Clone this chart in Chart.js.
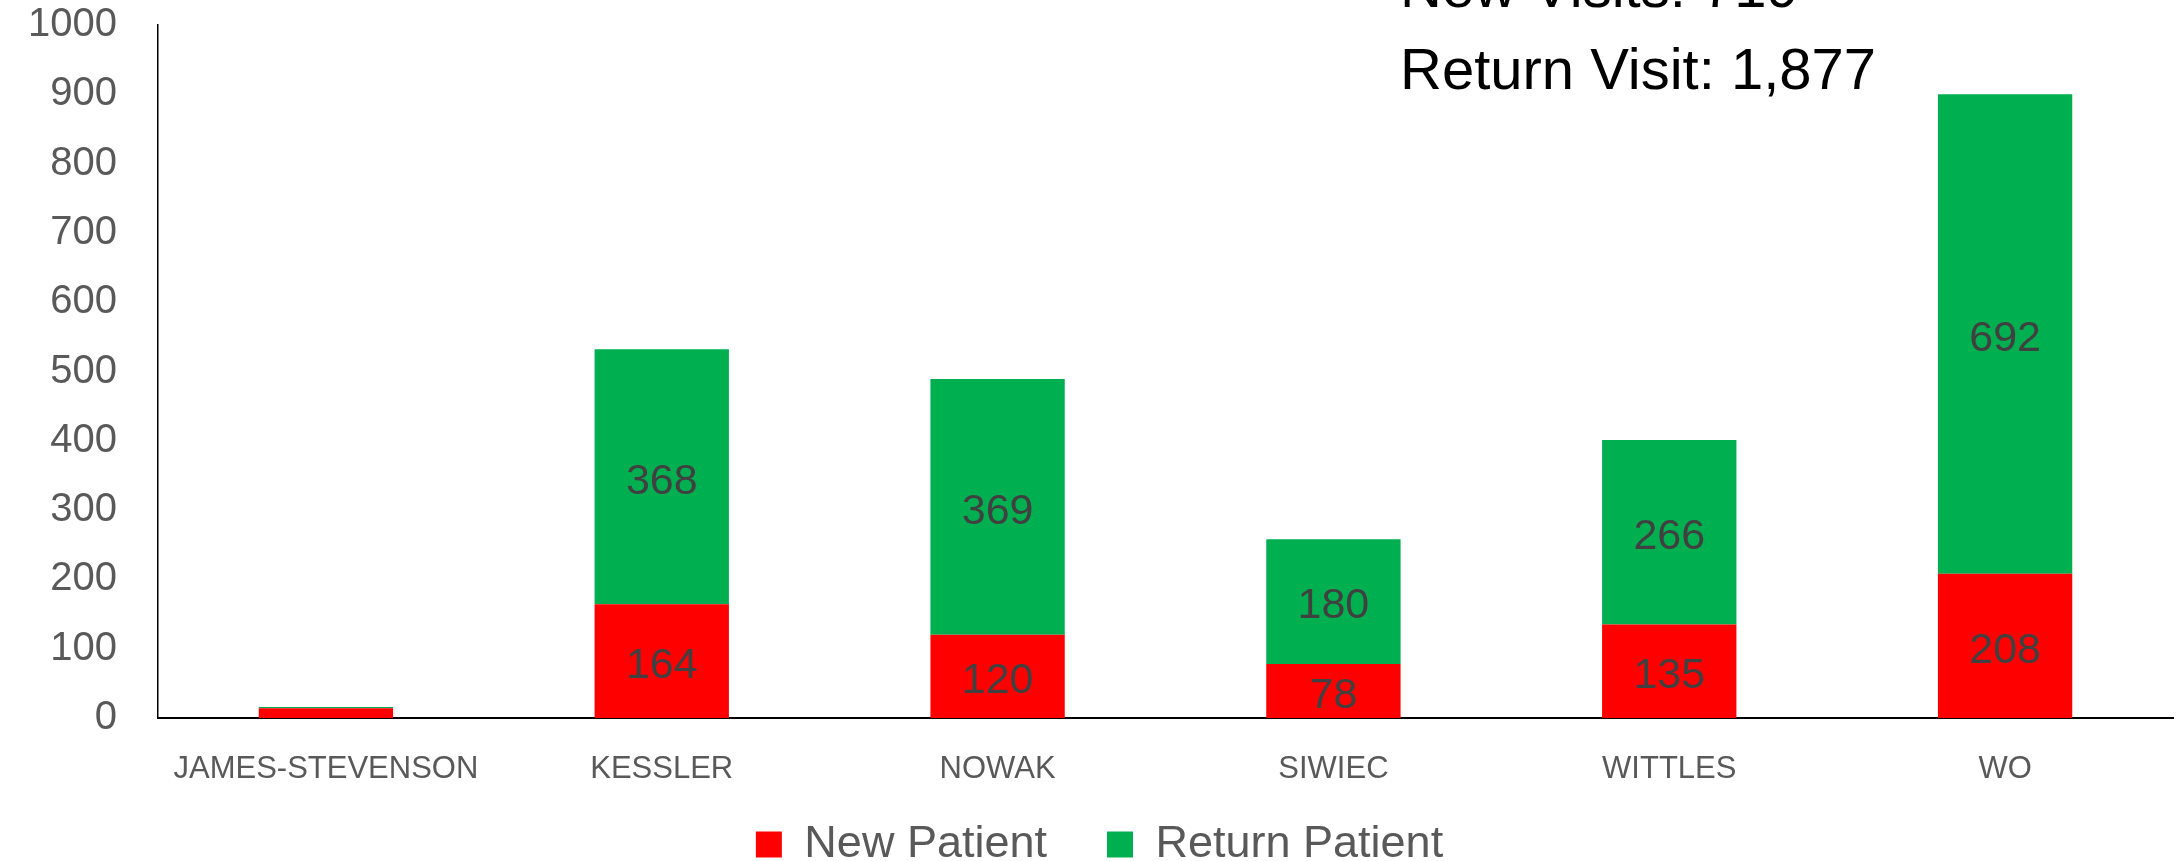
<!DOCTYPE html>
<html lang="en">
<head>
    <meta charset="UTF-8">
    <title>Patient Visits</title>
    <script src="https://cdn.jsdelivr.net/npm/chart.js"></script>
    <style>
        body {
            margin: 0;
            padding: 0;
            background: #ffffff;
        }
        .chart-box {
            width: 2178px;
            height: 861px;
            position: relative;
        }
    </style>
</head>
<body>
    <div class="chart-box">
        <canvas id="visitsChart"></canvas>
    </div>

    <script>
        const providers = ['JAMES-STEVENSON', 'KESSLER', 'NOWAK', 'SIWIEC', 'WITTLES', 'WO'];
        const newPatient = [14, 164, 120, 78, 135, 208];
        const returnPatient = [2, 368, 369, 180, 266, 692];
        const yTicks = [0, 100, 200, 300, 400, 500, 600, 700, 800, 900, 1000];
        const summaryLines = ['New Visits: 719', 'Return Visit: 1,877'];

        // value labels in the middle of each stacked segment
        const segmentLabels = {
            id: 'segmentLabels',
            afterDatasetsDraw(chart) {
                const ctx = chart.ctx;
                ctx.save();
                ctx.font = '43px "Liberation Sans"';
                ctx.fillStyle = '#404040';
                ctx.textAlign = 'center';
                ctx.textBaseline = 'middle';
                chart.data.datasets.forEach((ds, i) => {
                    chart.getDatasetMeta(i).data.forEach((bar, j) => {
                        const p = bar.getProps(['x', 'y', 'base'], true);
                        if (Math.abs(p.base - p.y) < 30) return;
                        ctx.fillText(ds.data[j], p.x, (p.y + p.base) / 2 + 5);
                    });
                });
                ctx.restore();
            }
        };

        const summaryText = {
            id: 'summaryText',
            afterDraw(chart) {
                const ctx = chart.ctx;
                ctx.save();
                ctx.font = '58px "Liberation Sans"';
                ctx.fillStyle = '#000000';
                ctx.textAlign = 'left';
                ctx.textBaseline = 'alphabetic';
                ctx.fillText(summaryLines[0], 1400, 7);
                ctx.fillText(summaryLines[1], 1400, 89);
                ctx.restore();
            }
        };

        const ctx = document.getElementById('visitsChart').getContext('2d');
        new Chart(ctx, {
            type: 'bar',
            data: {
                labels: providers,
                datasets: [{
                    label: 'New Patient',
                    data: newPatient,
                    backgroundColor: '#FF0000'
                }, {
                    label: 'Return Patient',
                    data: returnPatient,
                    backgroundColor: '#00B050'
                }]
            },
            options: {
                responsive: true,
                maintainAspectRatio: false,
                animation: false,
                layout: {
                    padding: { left: 26, right: 5, top: 0, bottom: 0 }
                },
                datasets: {
                    bar: {
                        categoryPercentage: 1,
                        barPercentage: 0.4
                    }
                },
                scales: {
                    x: {
                        stacked: true,
                        grid: { display: false, drawTicks: false },
                        border: { color: '#000000', width: 2 },
                        ticks: {
                            color: '#595959',
                            // mirror avoids label clipping; negative padding puts them back under the axis
                            mirror: true,
                            padding: -70,
                            font: { family: 'Liberation Sans', size: 31 }
                        },
                        afterFit(scale) {
                            scale.height = 44;
                        }
                    },
                    y: {
                        stacked: true,
                        min: 0,
                        max: 1000,
                        afterBuildTicks(axis) {
                            axis.ticks = yTicks.map(v => ({ value: v }));
                        },
                        afterFit(scale) {
                            scale.width = 132;
                            scale.paddingTop = 25;
                            scale.paddingBottom = 0;
                        },
                        grid: { display: false, drawTicks: false },
                        border: { color: '#000000', width: 1.5 },
                        ticks: {
                            color: '#595959',
                            padding: 41,
                            font: { family: 'Liberation Sans', size: 40 },
                            callback: v => String(v)
                        }
                    }
                },
                plugins: {
                    legend: {
                        position: 'bottom',
                        maxHeight: 99,
                        labels: {
                            boxWidth: 26,
                            boxHeight: 26,
                            padding: 60,
                            color: '#595959',
                            font: { family: 'Liberation Sans', size: 45 }
                        }
                    },
                    tooltip: { enabled: false }
                }
            },
            plugins: [segmentLabels, summaryText]
        });
    </script>
</body>
</html>
